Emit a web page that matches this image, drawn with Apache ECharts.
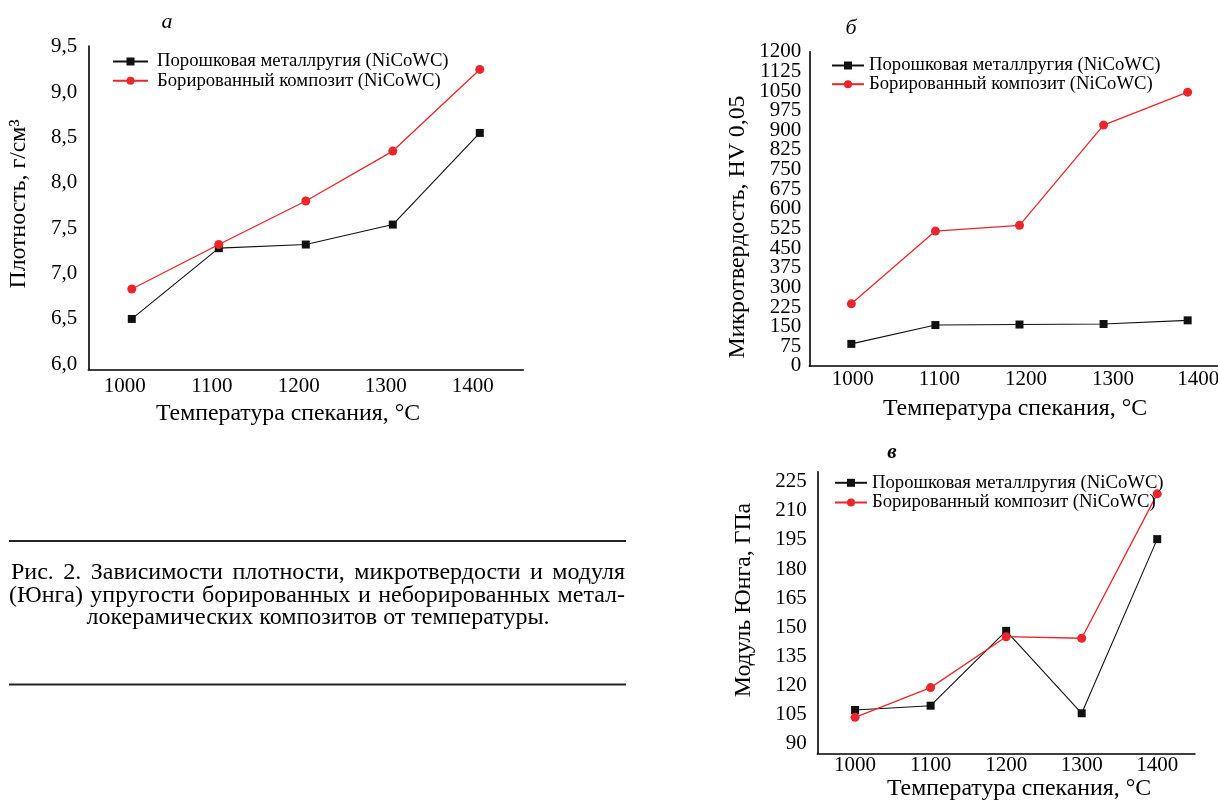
<!DOCTYPE html>
<html>
<head>
<meta charset="utf-8">
<script src="https://cdn.jsdelivr.net/npm/echarts@6/dist/echarts.min.js"></script>
<style>
html,body{margin:0;padding:0;background:#fff;}
#chart{width:1218px;height:802px;}
</style>
</head>
<body>
<div id="chart"></div>
<script>
// ---- data ----
const categories = ['1000', '1100', '1200', '1300', '1400'];
const seriesNames = ['Порошковая металлругия (NiCoWC)', 'Борированный композит (NiCoWC)'];

const densityPM  = [6.50, 7.28, 7.32, 7.54, 8.55];
const densityBor = [6.83, 7.32, 7.80, 8.35, 9.25];

const hardnessPM  = [84, 156, 158, 160, 174];
const hardnessBor = [237, 515, 537, 920, 1046];

const modulusPM  = [107.5, 109.7, 148.2, 105.8, 195.4];
const modulusBor = [103.7, 119.0, 145.2, 144.4, 218.7];

const densityTicks = [6.0, 6.5, 7.0, 7.5, 8.0, 8.5, 9.0, 9.5];
const hardnessTicks = [0, 75, 150, 225, 300, 375, 450, 525, 600, 675, 750, 825, 900, 975, 1050, 1125, 1200];
const modulusTicks = [90, 105, 120, 135, 150, 165, 180, 195, 210, 225];

const panelLetters = ['а', 'б', 'в'];
const xTitle = 'Температура спекания, °С';
const yTitles = ['Плотность, г/см³', 'Микротвердость, HV 0,05', 'Модуль Юнга, ГПа'];

const captionLine1 = 'Рис. 2. Зависимости плотности, микротвердости и модуля';
const captionLine2 = '(Юнга) упругости борированных и неборированных метал-';
const captionLine3 = 'локерамических композитов от температуры.';

// ---- styling ----
const FONT = '"Liberation Serif", "Times New Roman", serif';
const BLACK = '#111111';
const RED = '#e8262b';

const chart = echarts.init(document.getElementById('chart'), null, {renderer: 'canvas'});

function axisLineStyle() { return {show: true, lineStyle: {color: '#000', width: 1.6}}; }

function makeX(gridIndex, labelOpts) {
  return Object.assign({
    type: 'category', gridIndex: gridIndex, data: categories, boundaryGap: true,
    axisLine: axisLineStyle(), axisTick: {show: false}, splitLine: {show: false},
  }, labelOpts);
}

const xLabelBase = {color: '#000', fontFamily: FONT, fontSize: 21, interval: 0};

// label offsets for panel б (labels drift right in the reference)
const bOffsets = [3, 8, 13, 19, 21];
const bRich = {};
bOffsets.forEach((p, i) => { bRich['o' + i] = {padding: [0, 0, 0, p], color: '#000', fontFamily: FONT, fontSize: 21}; });

const xAxes = [
  makeX(0, {axisLabel: Object.assign({}, xLabelBase, {margin: 7, padding: [0, 14, 0, 0]})}),
  makeX(1, {axisLabel: Object.assign({}, xLabelBase, {margin: 3,
      formatter: (v, i) => '{o' + i + '|' + v + '}', rich: bRich})}),
  makeX(2, {axisLabel: Object.assign({}, xLabelBase, {margin: 2})}),
];

const yLabelBase = {color: '#000', fontFamily: FONT, fontSize: 21, hideOverlap: false,
  showMinLabel: true, showMaxLabel: true};
// panel б labels are densely stacked: split them over two coincident axes so none get dropped
const hardnessTicksEven = hardnessTicks.filter((v, i) => i % 2 === 0);
const hardnessTicksOdd = hardnessTicks.filter((v, i) => i % 2 === 1);
const yAxes = [
  {type: 'value', gridIndex: 0, min: 5.945, max: 9.508,
   axisLine: axisLineStyle(), axisTick: {show: false}, splitLine: {show: false},
   axisLabel: Object.assign({}, yLabelBase, {margin: 11, customValues: densityTicks,
     formatter: v => v.toFixed(1).replace('.', ',')})},
  {type: 'value', gridIndex: 1, min: -0.5, max: 1200.5, position: 'left',
   axisLine: axisLineStyle(), axisTick: {show: false}, splitLine: {show: false},
   axisLabel: Object.assign({}, yLabelBase, {margin: 8, customValues: hardnessTicksEven,
     formatter: v => String(v)})},
  {type: 'value', gridIndex: 2, min: 85.2, max: 230.1,
   axisLine: axisLineStyle(), axisTick: {show: false}, splitLine: {show: false},
   axisLabel: Object.assign({}, yLabelBase, {margin: 10.6, customValues: modulusTicks,
     formatter: v => String(v)})},
  {type: 'value', gridIndex: 1, min: -0.5, max: 1200.5, position: 'left', offset: 0,
   axisLine: {show: false}, axisTick: {show: false}, splitLine: {show: false},
   axisLabel: Object.assign({}, yLabelBase, {margin: 8, customValues: hardnessTicksOdd,
     formatter: v => String(v)})},
];

const grids = [
  {left: 88.3, top: 46, width: 435, height: 323.3, outerBoundsMode: 'none', containLabel: false},
  {left: 809.3, top: 51.7, width: 420.4, height: 314.3, outerBoundsMode: 'none', containLabel: false},
  {left: 817.3, top: 471.7, width: 377.7, height: 281.6, outerBoundsMode: 'none', containLabel: false},
];

function pmSeries(idx, data) {
  return {name: seriesNames[0], type: 'line', xAxisIndex: idx, yAxisIndex: idx, data: data,
    symbol: 'rect', symbolSize: 8, showSymbol: true,
    lineStyle: {color: BLACK, width: 1.1}, itemStyle: {color: BLACK},
    emphasis: {disabled: true}, animation: false, z: 2};
}
function borSeries(idx, data) {
  return {name: seriesNames[1], type: 'line', xAxisIndex: idx, yAxisIndex: idx, data: data,
    symbol: 'circle', symbolSize: 9, showSymbol: true,
    lineStyle: {color: RED, width: 1.3}, itemStyle: {color: RED},
    emphasis: {disabled: true}, animation: false, z: 3};
}

function legendAt(left, rowCenter, rowStep, width, textPad) {
  const fs = 18.7;
  return {show: true, left: left, top: rowCenter - 9, orient: 'vertical', selectedMode: false,
    padding: 0, itemWidth: width, itemHeight: 10, itemGap: rowStep - 18,
    data: seriesNames,
    textStyle: {color: '#000', fontFamily: FONT, fontSize: fs, lineHeight: 18, padding: [0, 0, 0, textPad]}};
}

// ---- graphic texts ----
const graphics = [];
function label(text, x, y, font, extra) {
  graphics.push(Object.assign({type: 'text', x: x, y: y, silent: true,
    style: {text: text, fill: '#000', font: font, textAlign: 'center', textVerticalAlign: 'middle'}}, extra || {}));
}
// panel letters
label(panelLetters[0], 167, 22, 'italic 22px ' + FONT);
label(panelLetters[1], 851, 28, 'italic 22px ' + FONT);
label(panelLetters[2], 892, 453, 'italic bold 21px ' + FONT);
// axis titles
const TF = '23.8px ' + FONT;
label(xTitle, 288, 414, TF);
label(xTitle, 1015, 409, TF);
label(xTitle, 1019, 789, TF);
label(yTitles[0], 19, 204, TF, {rotation: Math.PI / 2});
label(yTitles[1], 738, 227, TF, {rotation: Math.PI / 2});
label(yTitles[2], 744, 600, TF, {rotation: Math.PI / 2});

// caption rules
[541, 684.5].forEach(y => graphics.push({type: 'line', silent: true,
  shape: {x1: 9, y1: y, x2: 626, y2: y}, style: {stroke: '#222', lineWidth: 1.8}}));

// caption text (justified lines built from words, measured with canvas)
const CAP_SIZE = 24, CAP_SX = 1.0;
const mctx = document.createElement('canvas').getContext('2d');
mctx.font = CAP_SIZE + 'px ' + FONT;
function justify(line, y, x0, x1) {
  const words = line.split(' ');
  const widths = words.map(w => mctx.measureText(w).width * CAP_SX);
  const total = widths.reduce((a, b) => a + b, 0);
  const gap = (x1 - x0 - total) / (words.length - 1);
  let x = x0;
  words.forEach((w, i) => {
    graphics.push({type: 'text', x: x, y: y, scaleX: CAP_SX, silent: true,
      style: {text: w, fill: '#000', font: CAP_SIZE + 'px ' + FONT, textAlign: 'left', textVerticalAlign: 'middle'}});
    x += widths[i] + gap;
  });
}
justify(captionLine1, 573, 11, 625);
justify(captionLine2, 596, 9, 625);
graphics.push({type: 'text', x: 318, y: 618, scaleX: CAP_SX, silent: true,
  style: {text: captionLine3, fill: '#000', font: CAP_SIZE + 'px ' + FONT, textAlign: 'center', textVerticalAlign: 'middle'}});

const option = {
  backgroundColor: '#fff',
  animation: false,
  textStyle: {fontFamily: FONT},
  grid: grids,
  xAxis: xAxes,
  yAxis: yAxes,
  legend: [
    legendAt(112, 61, 18.3, 35, 4),
    legendAt(831, 65, 17.7, 32, 0),
    legendAt(834, 482.3, 18.7, 32, 0),
  ],
  series: [
    pmSeries(0, densityPM), borSeries(0, densityBor),
    pmSeries(1, hardnessPM), borSeries(1, hardnessBor),
    pmSeries(2, modulusPM), borSeries(2, modulusBor),
  ],
  graphic: graphics,
};
chart.setOption(option);
</script>
</body>
</html>
